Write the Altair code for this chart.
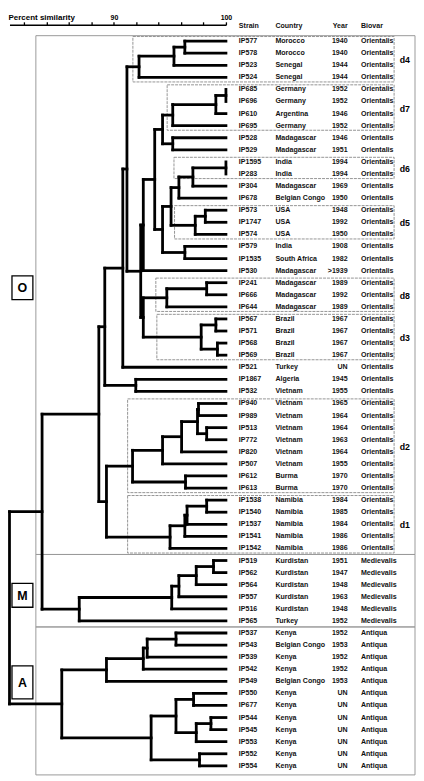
import altair as alt
import pandas as pd

# ---------------- data ----------------
strains = ["IP577", "IP578", "IP523", "IP524", "IP685", "IP696", "IP610", "IP695",
           "IP528", "IP529", "IP1595", "IP283", "IP304", "IP678", "IP573", "IP1747",
           "IP574", "IP579", "IP1535", "IP530", "IP241", "IP666", "IP644", "IP567",
           "IP571", "IP568", "IP569", "IP521", "IP1867", "IP532", "IP940", "IP989",
           "IP513", "IP772", "IP820", "IP507", "IP612", "IP613", "IP1538", "IP1540",
           "IP1537", "IP1541", "IP1542", "IP519", "IP562", "IP564", "IP557", "IP516",
           "IP565", "IP537", "IP543", "IP539", "IP542", "IP549", "IP550", "IP677",
           "IP544", "IP545", "IP553", "IP552", "IP554"]
countries = ["Morocco", "Morocco", "Senegal", "Senegal", "Germany", "Germany", "Argentina", "Germany",
             "Madagascar", "Madagascar", "India", "India", "Madagascar", "Belgian Congo", "USA", "USA",
             "USA", "India", "South Africa", "Madagascar", "Madagascar", "Madagascar", "Madagascar", "Brazil",
             "Brazil", "Brazil", "Brazil", "Turkey", "Algeria", "Vietnam", "Vietnam", "Vietnam",
             "Vietnam", "Vietnam", "Vietnam", "Vietnam", "Burma", "Burma", "Namibia", "Namibia",
             "Namibia", "Namibia", "Namibia", "Kurdistan", "Kurdistan", "Kurdistan", "Kurdistan", "Kurdistan",
             "Turkey", "Kenya", "Belgian Congo", "Kenya", "Kenya", "Belgian Congo", "Kenya", "Kenya",
             "Kenya", "Kenya", "Kenya", "Kenya", "Kenya"]
years = ["1940", "1940", "1944", "1944", "1952", "1952", "1946", "1952",
         "1946", "1951", "1994", "1994", "1969", "1950", "1948", "1992",
         "1950", "1908", "1982", ">1939", "1989", "1992", "1989", "1967",
         "1967", "1967", "1967", "UN", "1945", "1955", "1965", "1964",
         "1964", "1963", "1964", "1955", "1970", "1970", "1984", "1985",
         "1984", "1986", "1986", "1951", "1947", "1948", "1963", "1948",
         "1952", "1952", "1953", "1952", "1952", "1953", "UN", "UN",
         "UN", "UN", "UN", "UN", "UN"]
biovars = ["Orientalis"] * 43 + ["Medievalis"] * 6 + ["Antiqua"] * 12

# merges: (child a, child b, percent similarity); "mK" = K-th merge
merges = [
    ("IP577", "IP578", 96.33), ("m1", "IP523", 95.36), ("m2", "IP524", 92.24),
    ("IP685", "IP696", 100.0), ("m4", "IP610", 99.10), ("m5", "IP695", 95.25),
    ("IP528", "IP529", 95.25), ("m6", "m7", 94.34),
    ("IP1595", "IP283", 100.0), ("m9", "IP304", 97.05), ("m10", "IP678", 95.80),
    ("IP573", "IP1747", 98.16), ("m12", "IP574", 97.26), ("m11", "m13", 95.10),
    ("IP579", "IP1535", 96.33), ("m14", "m15", 94.34), ("m8", "m16", 93.64),
    ("m17", "IP530", 92.62),
    ("IP241", "IP666", 98.28), ("m19", "IP644", 94.72),
    ("IP567", "IP571", 99.10), ("IP568", "IP569", 99.24), ("m21", "m22", 97.79),
    ("m20", "m23", 92.62), ("m18", "m24", 92.39), ("m3", "m25", 91.16),
    ("m26", "IP521", 90.79), ("IP1867", "IP532", 91.95), ("m27", "m28", 89.18),
    ("IP940", "IP989", 97.55), ("IP513", "IP772", 98.28), ("m30", "m31", 97.46),
    ("m32", "IP820", 96.04), ("m33", "IP507", 94.34), ("IP612", "IP613", 96.39),
    ("m34", "m35", 91.66),
    ("IP1538", "IP1540", 98.28), ("m37", "IP1537", 96.53), ("m38", "IP1541", 96.33),
    ("m39", "IP1542", 95.01), ("m36", "m40", 89.33), ("m29", "m41", 88.65),
    ("IP519", "IP562", 98.89), ("m43", "IP564", 97.35), ("m44", "IP557", 95.80),
    ("m45", "IP516", 95.16), ("m46", "IP565", 86.90), ("m42", "m47", 83.58),
    ("IP537", "IP543", 95.54), ("m49", "IP539", 92.97), ("m50", "IP542", 92.62),
    ("m51", "IP549", 89.33), ("IP550", "IP677", 97.11), ("IP544", "IP545", 98.66),
    ("m54", "IP553", 97.35), ("m53", "m55", 95.54), ("IP552", "IP554", 97.64),
    ("m56", "m57", 93.32), ("m52", "m58", 85.34), ("m48", "m59", 80.67),
]

# main groups (biovars) and their first/last strain
groups = [("O", "IP577", "IP1542"), ("M", "IP519", "IP565"), ("A", "IP537", "IP554")]
# sub-clusters: name, first strain, last strain, similarity at left edge of box
clusters = [("d4", "IP577", "IP524", 91.69), ("d7", "IP685", "IP695", 94.75),
            ("d6", "IP1595", "IP283", 95.36), ("d5", "IP573", "IP574", 95.41),
            ("d8", "IP241", "IP644", 93.74), ("d3", "IP567", "IP569", 93.83),
            ("d2", "IP940", "IP613", 91.22), ("d1", "IP1538", "IP1542", 91.22)]

axis_ticks = [82, 84, 86, 88, 90, 92, 94, 96, 98, 100]

# ---------------- layout / style ----------------
FONT = "Liberation Sans"
W, H = 410, 755
PAD_TOP = 15
X_DOMAIN = [80.67, 100]
X_RANGE = [1.5, 219]
Y_DOMAIN = [-1.35, 60.85]
STRAIN_X, COUNTRY_X, YEAR_X, BIOVAR_X = 232, 268.7, 341.3, 354.7
HEADER_Y = 1.5
BOX_LEFT, BOX_RIGHT = 28, 409
DBOX_RIGHT, DLABEL_X = 388, 398.7
LETTER_X1, LETTER_X2 = 4, 25
LETTER_ROWS = {"O": (19.43, 21.4), "M": (44.9, 46.87), "A": (51.73, 54.45)}
TXT = 7.1

row = {s: i for i, s in enumerate(strains)}

# tree segments
pos = {s: (100.0, float(i)) for s, i in row.items()}
segs = []
for k, (a, b, sim) in enumerate(merges, start=1):
    xa, ya = pos[a]
    xb, yb = pos[b]
    segs.append(dict(x=sim, x2=sim, y=ya, y2=yb))
    for xc, yc in ((xa, ya), (xb, yb)):
        if xc != sim:
            segs.append(dict(x=sim, x2=xc, y=yc, y2=yc))
    pos[f"m{k}"] = (sim, (ya + yb) / 2)
seg_df = pd.DataFrame(segs)

table = pd.DataFrame(dict(strain=strains, country=countries, year=years,
                          biovar=biovars, row=list(range(len(strains)))))

# group boxes
gb = []
for i, (g, first, last) in enumerate(groups):
    top = row[first] - 0.45 if i == 0 else (row[groups[i - 1][2]] + row[first]) / 2
    bot = row[last] + 0.75 if i == len(groups) - 1 else (row[last] + row[groups[i + 1][1]]) / 2
    gb.append(dict(g=g, y1=top, y2=bot, l1=LETTER_ROWS[g][0], l2=LETTER_ROWS[g][1],
                   lc=(LETTER_ROWS[g][0] + LETTER_ROWS[g][1]) / 2))
gb_df = pd.DataFrame(gb)

db_df = pd.DataFrame([dict(name=n, y1=row[f] - 0.38, y2=row[l] + 0.38,
                           yc=(row[f] + row[l]) / 2 + 0.1, xl=xl)
                      for n, f, l, xl in clusters])

xs = alt.Scale(domain=X_DOMAIN, range=X_RANGE, nice=False, zero=False)
ys = alt.Scale(domain=Y_DOMAIN, range=[0, H], nice=False, zero=False)

x_axis = alt.Axis(orient="top", values=axis_ticks, grid=False,
                  labelExpr="datum.value == 90 || datum.value == 100 ? datum.label : ''",
                  labelFont=FONT, labelFontSize=7, labelFontWeight="bold", labelColor="black",
                  labelPadding=1, labelFlush=False, labelOverlap=False,
                  tickSize=3, tickWidth=1.3, tickColor="black",
                  domainColor="black", domainWidth=1.4,
                  title="Percent similarity", titleFont=FONT, titleFontSize=8,
                  titleFontWeight="bold", titleColor="black", titleX=0, titleY=-5,
                  titleAlign="left", titleBaseline="alphabetic", titleAnchor="start")

tree = alt.Chart(seg_df).mark_rule(color="black", strokeWidth=2.8, strokeCap="square").encode(
    x=alt.X("x:Q", scale=xs, axis=x_axis),
    x2="x2:Q",
    y=alt.Y("y:Q", scale=ys, axis=None),
    y2="y2:Q",
)

group_boxes = alt.Chart(gb_df).mark_rect(fillOpacity=0, stroke="#9a9a9a", strokeWidth=1).encode(
    x=alt.value(BOX_LEFT), x2=alt.value(BOX_RIGHT),
    y=alt.Y("y1:Q", scale=ys, axis=None), y2="y2:Q",
)

d_boxes = alt.Chart(db_df).mark_rect(fillOpacity=0, stroke="#8a8a8a", strokeWidth=0.9,
                                     strokeDash=[3, 1]).encode(
    x=alt.X("xl:Q", scale=xs), x2=alt.value(DBOX_RIGHT),
    y=alt.Y("y1:Q", scale=ys, axis=None), y2="y2:Q",
)
d_labels = alt.Chart(db_df).mark_text(font=FONT, fontSize=8.8, fontWeight="bold",
                                      align="center", baseline="middle", color="black").encode(
    x=alt.value(DLABEL_X), y=alt.Y("yc:Q", scale=ys, axis=None), text="name:N",
)


def column(field, xpos, align="left"):
    return alt.Chart(table).mark_text(font=FONT, fontSize=TXT, fontWeight="bold", align=align,
                                      baseline="middle", color="#111").encode(
        x=alt.value(xpos), y=alt.Y("row:Q", scale=ys, axis=None), text=f"{field}:N")


def header(label, xpos, align="left"):
    return alt.Chart(pd.DataFrame({"t": [label]})).mark_text(
        font=FONT, fontSize=TXT, fontWeight="bold", align=align, baseline="middle",
        color="#111").encode(x=alt.value(xpos), y=alt.value(HEADER_Y), text="t:N")


letter_boxes = alt.Chart(gb_df).mark_rect(fill="white", stroke="black", strokeWidth=1.3).encode(
    x=alt.value(LETTER_X1), x2=alt.value(LETTER_X2),
    y=alt.Y("l1:Q", scale=ys, axis=None), y2="l2:Q",
)
letters = alt.Chart(gb_df).mark_text(font=FONT, fontSize=12.5, fontWeight="bold",
                                     align="center", baseline="middle", color="black", dy=0.5).encode(
    x=alt.value((LETTER_X1 + LETTER_X2) / 2), y=alt.Y("lc:Q", scale=ys, axis=None), text="g:N",
)

chart = alt.layer(
    group_boxes, d_boxes, tree,
    column("strain", STRAIN_X), column("country", COUNTRY_X),
    column("year", YEAR_X, "right"), column("biovar", BIOVAR_X),
    header("Strain", STRAIN_X), header("Country", COUNTRY_X),
    header("Year", YEAR_X, "right"), header("Biovar", BIOVAR_X),
    d_labels, letter_boxes, letters,
).properties(
    width=W, height=H,
    padding={"left": 0, "top": PAD_TOP, "right": 0, "bottom": 0},
    autosize=alt.AutoSizeParams(type="none"),
).configure_view(stroke="transparent")

chart.save("out.html", embed_options={"renderer": "svg", "actions": False})
